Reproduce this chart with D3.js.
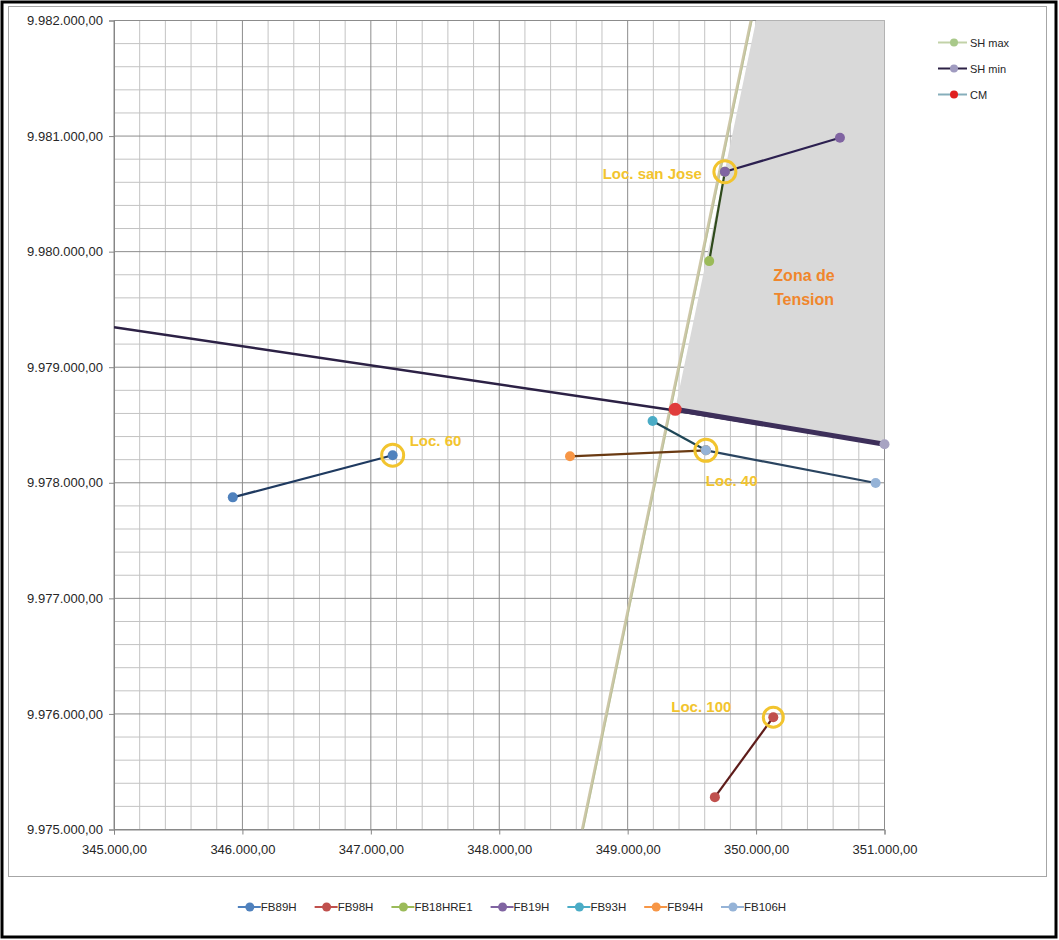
<!DOCTYPE html>
<html><head><meta charset="utf-8">
<script src="https://cdn.jsdelivr.net/npm/d3@7"></script>
<style>html,body{margin:0;padding:0;background:#fff}svg{display:block}</style>
</head><body>
<svg id="c" width="1059" height="940"></svg>
<script>
// ---- data ----
const xTicks = [345000, 346000, 347000, 348000, 349000, 350000, 351000];
const yTicks = [9975000, 9976000, 9977000, 9978000, 9979000, 9980000, 9981000, 9982000];
const seriesNames = ["FB89H", "FB98H", "FB18HRE1", "FB19H", "FB93H", "FB94H", "FB106H"];
const seriesColors = ["#4f81bd", "#c0504d", "#9bbb59", "#8064a2", "#4bacc6", "#f79646", "#95b3d7"];
const seriesLineColors = ["#1f3a60", "#5e1c1a", "#2f4a1c", "#2c2050", "#1e4656", "#6a3a12", "#2a4460"];
const seriesX = [[345925, 347170], [349679, 350134], [349635, 349757], [349757, 350653], [349194, 349609], [348551, 349609], [349609, 350931]];
const seriesY = [[9977874, 9978238], [9975280, 9975972], [9979918, 9980691], [9980691, 9980985], [9978535, 9978281], [9978229, 9978281], [9978281, 9977998]];
const shMaxX = [348647, 349961];
const shMaxY = [9975000, 9982000];
const shMinX = [345000, 349370, 351000];
const shMinY = [9979346, 9978625, 9978333];
const cmX = [349370];
const cmY = [9978636];
const zoneX = [349370, 350000, 351000, 351000];
const zoneY = [9978636, 9982000, 9982000, 9978333];
const locNames = ["Loc. 60", "Loc. 40", "Loc. san Jose", "Loc. 100"];
const locX = [347170, 349609, 349757, 350134];
const locY = [9978238, 9978281, 9980691, 9975972];
const topLegendNames = ["SH max", "SH min", "CM"];
const zoneLabel = ["Zona de", "Tension"];

// ---- chart ----
const svg = d3.select("#c");
const x = d3.scaleLinear().domain([345000, 351000]).range([114, 884.5]);
const y = d3.scaleLinear().domain([9975000, 9982000]).range([829.5, 20.5]);
const fmt = v => d3.format(",.2f")(v).replace(/,/g, "X").replace(/\./g, ",").replace(/X/g, ".");

// frames
svg.append("rect").attr("x", 8.5).attr("y", 6.5).attr("width", 1038).attr("height", 870)
  .attr("fill", "#fff").attr("stroke", "#a6a6a6").attr("stroke-width", 1);

const minorX = d3.range(345000, 351001, 200).filter(v => v % 1000 !== 0);
const minorY = d3.range(9975000, 9982001, 200).filter(v => v % 1000 !== 0);
const g = svg.append("g");
g.selectAll(".mx").data(minorX).join("line")
  .attr("x1", d => x(d)).attr("x2", d => x(d)).attr("y1", y.range()[1]).attr("y2", y.range()[0])
  .attr("stroke", "#c3c3c3").attr("stroke-width", 1);
g.selectAll(".my").data(minorY).join("line")
  .attr("y1", d => y(d)).attr("y2", d => y(d)).attr("x1", x.range()[0]).attr("x2", x.range()[1])
  .attr("stroke", "#c3c3c3").attr("stroke-width", 1);

// tension zone
svg.append("path")
  .attr("d", d3.line()(zoneX.map((v, i) => [x(v), y(zoneY[i])])) + "Z")
  .attr("fill", "#d9d9d9").attr("stroke", "none");

// major grid
g.append("g").selectAll("line").data(xTicks).join("line")
  .attr("x1", d => x(d)).attr("x2", d => x(d)).attr("y1", y.range()[1]).attr("y2", y.range()[0])
  .attr("stroke", "#8c8c8c").attr("stroke-width", 1);
g.append("g").selectAll("line").data(yTicks).join("line")
  .attr("y1", d => y(d)).attr("y2", d => y(d)).attr("x1", x.range()[0]).attr("x2", x.range()[1])
  .attr("stroke", "#8c8c8c").attr("stroke-width", 1);

// axes
const xAxis = d3.axisBottom(x).tickValues(xTicks).tickFormat(fmt).tickSize(5).tickPadding(10);
const yAxis = d3.axisLeft(y).tickValues(yTicks).tickFormat(fmt).tickSize(5).tickPadding(6);
const xa = svg.append("g").attr("transform", `translate(0,${y.range()[0]})`).call(xAxis);
const ya = svg.append("g").attr("transform", `translate(${x.range()[0]},0)`).call(yAxis);
[xa, ya].forEach(a => {
  a.select(".domain").attr("stroke", "#868686");
  a.selectAll(".tick line").attr("stroke", "#868686");
  a.selectAll("text").attr("fill", "#262626").style("font-family", "Liberation Sans, Arial, sans-serif").style("font-size", "13px");
});

// clip
svg.append("clipPath").attr("id", "pc").append("rect")
  .attr("x", x.range()[0]).attr("y", y.range()[1]).attr("width", x.range()[1] - x.range()[0]).attr("height", y.range()[0] - y.range()[1]);
const p = svg.append("g").attr("clip-path", "url(#pc)");
const line = d3.line();

// SH max
p.append("path").attr("d", line(shMaxX.map((v, i) => [x(v), y(shMaxY[i])])))
  .attr("stroke", "#cdc7a8").attr("stroke-width", 3).attr("fill", "none");
p.append("path").attr("d", line(shMaxX.map((v, i) => [x(v) + 1, y(shMaxY[i])])))
  .attr("stroke", "#b4bf92").attr("stroke-width", 1).attr("fill", "none").attr("opacity", 0.8);

// SH min thin + thick
p.append("path").attr("d", line(shMinX.map((v, i) => [x(v), y(shMinY[i])])))
  .attr("stroke", "#2c2145").attr("stroke-width", 2.5).attr("fill", "none");
p.append("path").attr("d", line([[x(cmX[0]), y(cmY[0])], [x(shMinX[2]), y(shMinY[2])]]))
  .attr("stroke", "#3d2f5a").attr("stroke-width", 5).attr("fill", "none");

// series lines
seriesNames.forEach((n, i) => {
  p.append("path").attr("d", line(seriesX[i].map((v, j) => [x(v), y(seriesY[i][j])])))
    .attr("stroke", seriesLineColors[i]).attr("stroke-width", 2.2).attr("fill", "none");
});
// markers
seriesNames.forEach((n, i) => {
  svg.append("g").selectAll("circle").data(seriesX[i]).join("circle")
    .attr("cx", d => x(d)).attr("cy", (d, j) => y(seriesY[i][j])).attr("r", 5)
    .attr("fill", seriesColors[i]);
});
// SH min end marker
svg.append("circle").attr("cx", x(shMinX[2])).attr("cy", y(shMinY[2])).attr("r", 5).attr("fill", "#a7a3c2");
// CM
svg.append("circle").attr("cx", x(cmX[0])).attr("cy", y(cmY[0])).attr("r", 6.5).attr("fill", "#e03c3c");

// Location circles
const circR = [11, 11, 11, 10];
locNames.forEach((n, i) => {
  svg.append("circle").attr("cx", x(locX[i])).attr("cy", y(locY[i])).attr("r", circR[i])
    .attr("fill", "none").attr("stroke", "#f2c42e").attr("stroke-width", 3);
});
const labelOff = [[17, -9, "start"], [0, 36, "start"], [-23, 7, "end"], [-102, -5, "start"]];
locNames.forEach((n, i) => {
  svg.append("text").attr("x", x(locX[i]) + labelOff[i][0]).attr("y", y(locY[i]) + labelOff[i][1])
    .attr("text-anchor", labelOff[i][2]).attr("fill", "#f2c42e")
    .style("font-family", "Liberation Sans, Arial, sans-serif").style("font-weight", "bold").style("font-size", "15px")
    .text(n);
});
// zone label
zoneLabel.forEach((t, i) => {
  svg.append("text").attr("x", 804).attr("y", 281 + i * 24).attr("text-anchor", "middle")
    .attr("fill", "#f0862c").style("font-family", "Liberation Sans, Arial, sans-serif")
    .style("font-weight", "bold").style("font-size", "16px").text(t);
});

// top-right legend
const tlLine = ["#c2d2a8", "#2c2145", "#86aebb"];
const tlMark = ["#a9c98a", "#a09bc0", "#e02020"];
topLegendNames.forEach((n, i) => {
  const yy = 42.5 + i * 26;
  svg.append("line").attr("x1", 938).attr("x2", 967).attr("y1", yy).attr("y2", yy)
    .attr("stroke", tlLine[i]).attr("stroke-width", 2);
  svg.append("circle").attr("cx", 954).attr("cy", yy).attr("r", 4).attr("fill", tlMark[i]);
  svg.append("text").attr("x", 970).attr("y", yy + 4).attr("fill", "#262626")
    .style("font-family", "Liberation Sans, Arial, sans-serif").style("font-size", "11px").text(n);
});

// bottom legend
const bl = svg.append("g");
let cx = 0;
seriesNames.forEach((n, i) => {
  const gi = bl.append("g");
  gi.append("line").attr("x1", 0).attr("x2", 23).attr("y1", 0).attr("y2", 0)
    .attr("stroke", seriesColors[i]).attr("stroke-width", 2);
  gi.append("circle").attr("cx", 12).attr("cy", 0).attr("r", 4.5).attr("fill", seriesColors[i]);
  const t = gi.append("text").attr("x", 23).attr("y", 4).attr("fill", "#262626")
    .style("font-family", "Liberation Sans, Arial, sans-serif").style("font-size", "11.5px").text(n);
  const w = t.node().getComputedTextLength();
  gi.attr("transform", `translate(${cx},907)`);
  cx += 23 + w + 18;
});
const total = cx - 18;
bl.attr("transform", `translate(${512 - total / 2},0)`);

// outer black frame
svg.append("rect").attr("x", 2).attr("y", 2).attr("width", 1054).attr("height", 935)
  .attr("fill", "none").attr("stroke", "#000").attr("stroke-width", 3);
</script>
</body></html>
